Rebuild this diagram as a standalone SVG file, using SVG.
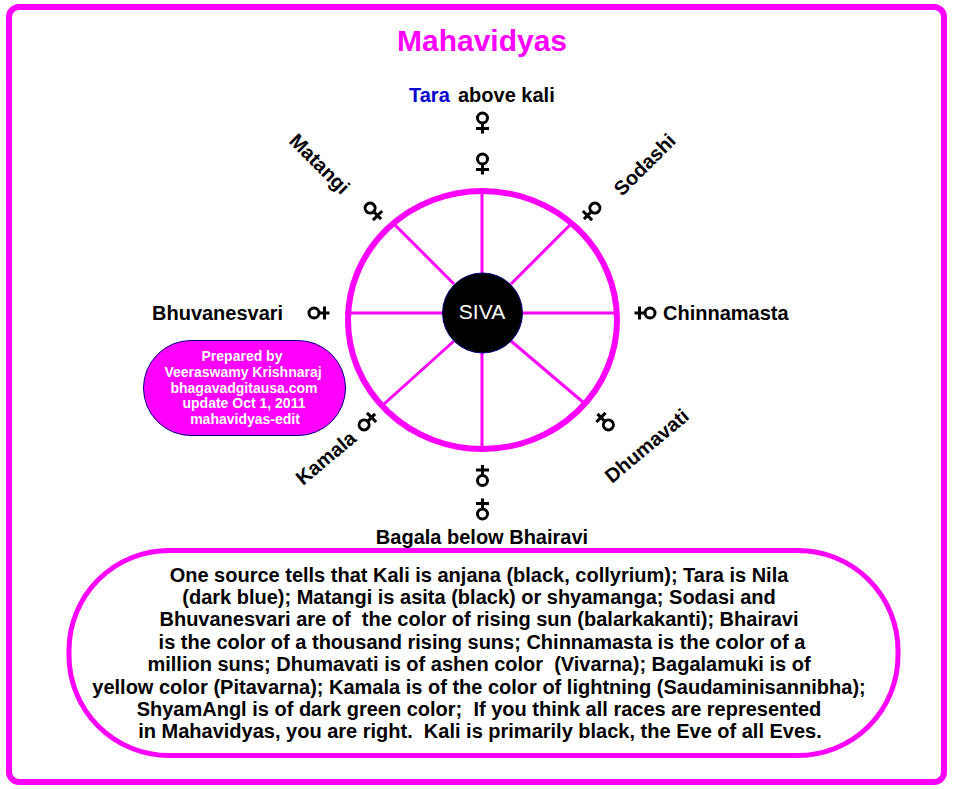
<svg xmlns="http://www.w3.org/2000/svg" width="957" height="789" viewBox="0 0 957 789">
<style>
text{font-family:"Liberation Sans",Arial,sans-serif;font-weight:700;fill:#000;font-size:20px;white-space:pre}
.m{text-anchor:middle}
.body{text-anchor:middle}
.w{fill:#fff;font-size:14px;text-anchor:middle}
.sp{stroke:#ff00ff;stroke-width:3;fill:none}
.g{fill:none;stroke:#000;stroke-width:3}
</style>
<defs>
<g id="venus" class="g"><circle cx="0" cy="-5.500" r="5"/><path d="M0-0.500V10M-6.500 5H6.500"/></g>
</defs>
<rect id="frame" x="9" y="7" width="935" height="775" rx="10" fill="#fff" stroke="#ff00ff" stroke-width="6"/>
<g id="title"><text class="m" x="482" y="51" style="font-size:30px;fill:#ff00ff">Mahavidyas</text></g>
<g id="connectors">
<path class="sp" d="M482 190V273M482 353V448M345 313H442M523 313H618M394 224L454 284M571 224L511 284M384 404L454 341M584 403L511 341"/>
</g>
<g id="wheel"><ellipse cx="482.500" cy="320" rx="134.500" ry="129" fill="none" stroke="#ff00ff" stroke-width="6"/></g>
<g id="siva"><circle cx="482.500" cy="313" r="40" fill="#000" stroke="#000080" stroke-width="1"/><text class="m" x="482" y="319" style="fill:#fff;font-weight:400;font-size:21px">SIVA</text></g>
<g id="tara"><text x="409" y="102" style="fill:#0000d0">Tara</text><text x="458" y="102">above kali</text><use href="#venus" transform="translate(482.500,123.500)"/></g>
<g id="kali"><use href="#venus" transform="translate(482.500,164.500)"/></g>
<g id="sodashi"><use href="#venus" transform="translate(591,212) rotate(45)"/><text transform="translate(622,197) rotate(-45)">Sodashi</text></g>
<g id="matangi"><use href="#venus" transform="translate(374,212) rotate(-45)"/><text transform="translate(288,142) rotate(45)">Matangi</text></g>
<g id="chinnamasta"><use href="#venus" transform="translate(644.500,313) rotate(90)"/><text x="663" y="320">Chinnamasta</text></g>
<g id="bhuvanesvari"><use href="#venus" transform="translate(319.500,313) rotate(-90)"/><text x="152" y="320">Bhuvanesvari</text></g>
<g id="dhumavati"><use href="#venus" transform="translate(604.500,421) rotate(135)"/><text transform="translate(612,484) rotate(-40)">Dhumavati</text></g>
<g id="kamala"><use href="#venus" transform="translate(368,421) rotate(-135)"/><text transform="translate(303,486) rotate(-40)">Kamala</text></g>
<g id="bhairavi"><use href="#venus" transform="translate(482.500,475) rotate(180)"/></g>
<g id="bagala"><use href="#venus" transform="translate(482.500,508.500) rotate(180)"/><text class="m" x="482" y="544">Bagala below Bhairavi</text></g>
<g id="credit"><rect x="143.500" y="340.500" width="202" height="95" rx="47.500" fill="#ff00ff" stroke="#000080"/>
<text class="w" x="242" y="361">Prepared by</text><text class="w" x="243" y="377">Veeraswamy Krishnaraj</text><text class="w" x="244" y="393">bhagavadgitausa.com</text><text class="w" x="244" y="408">update Oct 1, 2011</text><text class="w" x="245" y="424">mahavidyas-edit</text></g>
<g id="note"><rect x="69" y="550.500" width="829" height="205" rx="100" fill="#fff" stroke="#ff00ff" stroke-width="5"/>
<text class="body" x="479" y="582">One source tells that Kali is anjana (black, collyrium); Tara is Nila</text>
<text class="body" x="479" y="604">(dark blue); Matangi is asita (black) or shyamanga; Sodasi and</text>
<text class="body" x="479" y="626">Bhuvanesvari are of  the color of rising sun (balarkakanti); Bhairavi</text>
<text class="body" x="482" y="649">is the color of a thousand rising suns; Chinnamasta is the color of a</text>
<text class="body" x="479" y="671">million suns; Dhumavati is of ashen color  (Vivarna); Bagalamuki is of</text>
<text class="body" x="479" y="694">yellow color (Pitavarna); Kamala is of the color of lightning (Saudaminisannibha);</text>
<text class="body" x="479" y="716">ShyamAngl is of dark green color;  If you think all races are represented</text>
<text class="body" x="480" y="738">in Mahavidyas, you are right.  Kali is primarily black, the Eve of all Eves.</text></g>
</svg>
